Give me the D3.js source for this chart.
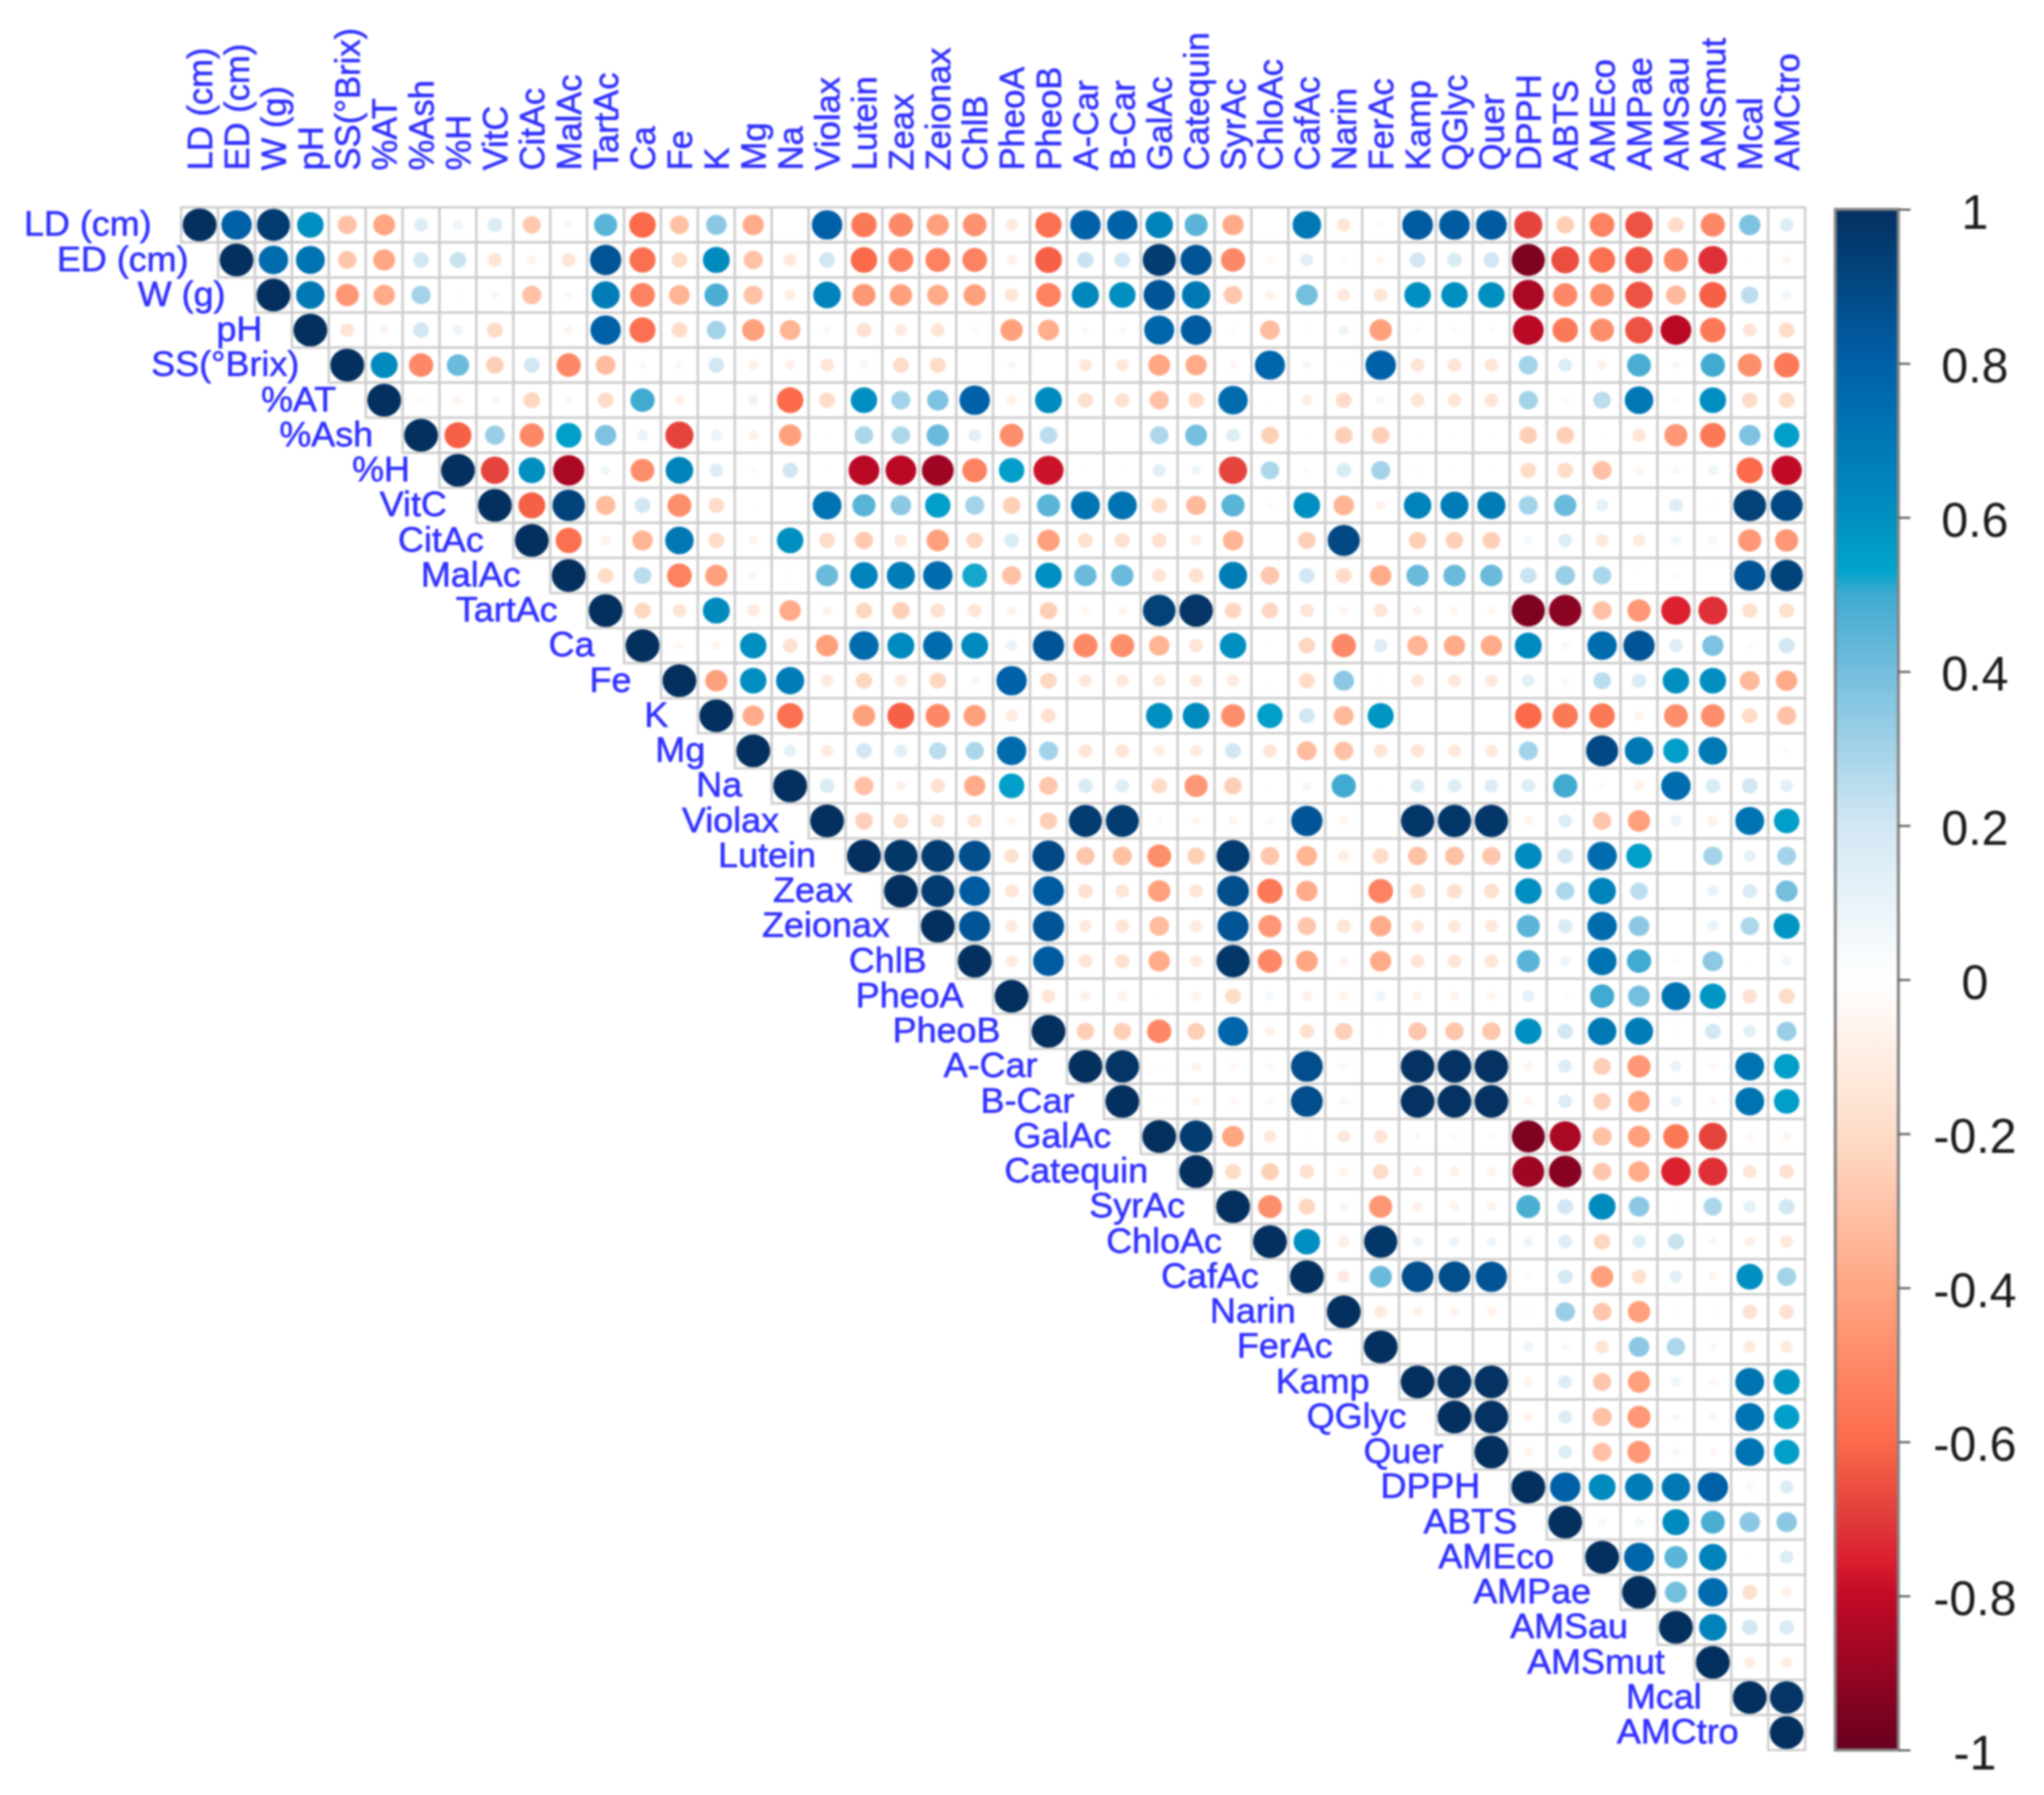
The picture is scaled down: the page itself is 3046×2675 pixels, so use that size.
<!DOCTYPE html>
<html>
<head>
<meta charset="utf-8">
<script src="https://cdn.jsdelivr.net/npm/d3@7/dist/d3.min.js"></script>
<style>
html,body{margin:0;padding:0;background:#fff;}
svg{display:block;filter:blur(1.8px);}
text{font-family:"Liberation Sans",Arial,sans-serif;}
</style>
</head>
<body>
<svg id="chart" width="3046" height="2675"></svg>
<script>
const variables = ["LD (cm)","ED (cm)","W (g)","pH","SS(°Brix)","%AT","%Ash","%H","VitC","CitAc","MalAc","TartAc","Ca","Fe","K","Mg","Na","Violax","Lutein","Zeax","Zeionax","ChlB","PheoA","PheoB","A-Car","B-Car","GalAc","Catequin","SyrAc","ChloAc","CafAc","Narin","FerAc","Kamp","QGlyc","Quer","DPPH","ABTS","AMEco","AMPae","AMSau","AMSmut","Mcal","AMCtro"];

const colorbarTicks = [1,0.8,0.6,0.4,0.2,0,-0.2,-0.4,-0.6,-0.8,-1];
const colorStopValues = [1,0.8,0.6,0.53,0.5,0.4,0.2,0,-0.2,-0.4,-0.6,-0.7,-0.75,-0.8,-1];
const colorStopColors = ["#04305f","#0060a8","#008fc0","#00a4cc","#40aad0","#74bede","#d2e7f3","#ffffff","#fedcc8","#ffa683","#fb6a4a","#e03a3a","#dc2030","#c20a26","#67001f"];

// upper-triangle rows: each starts at the diagonal
const rowLD = [1,.8,.95,.6,-.3,-.4,.15,.08,.17,-.27,.05,.45,-.6,-.3,.35,-.38,0,.8,-.55,-.5,-.42,-.47,-.12,-.58,.8,.8,.65,.45,-.38,0,.7,-.15,-.03,.82,.82,.82,-.68,-.25,-.52,-.65,-.2,-.5,.38,.15];
const rowED = [1,.75,.72,-.28,-.4,.2,.22,-.15,-.07,-.15,.85,-.58,-.2,.62,-.3,-.13,.2,-.6,-.52,-.52,-.52,-.08,-.62,.22,.2,.95,.85,-.5,-.04,.13,-.03,-.05,.2,.17,.2,-.95,-.66,-.58,-.65,-.5,-.72,-.02,-.05];
const rowW = [1,.7,-.45,-.38,.3,.02,.05,-.3,.04,.68,-.52,-.35,.48,-.3,-.1,.65,-.45,-.42,-.38,-.42,-.15,-.52,.63,.6,.85,.7,-.28,-.07,.4,-.13,-.15,.6,.6,.6,-.85,-.5,-.48,-.65,-.33,-.62,.25,.07];
const rowPH = [1,-.15,-.06,.2,.08,-.2,0,-.06,.8,-.58,-.2,.3,-.42,-.35,.05,-.17,-.12,-.15,-.04,-.42,-.37,.04,.04,.78,.82,-.03,-.32,-.02,.08,-.42,.03,.03,.03,-.82,-.55,-.48,-.65,-.82,-.55,-.15,-.2];
const rowSS = [1,.62,-.5,.42,-.25,.2,-.5,-.32,.04,.05,.2,-.08,-.08,-.15,-.05,-.2,-.2,0,.05,0,-.13,-.13,-.4,-.38,-.05,.78,.05,.02,.8,-.15,-.15,-.15,.3,.15,-.08,.48,.05,.5,-.48,-.55];
const rowAT = [1,-.04,-.06,.05,-.22,.04,-.2,.5,-.08,0,.08,-.6,-.2,.6,.3,.38,.8,-.08,.62,-.18,-.17,-.3,-.2,.75,.01,-.1,-.2,.06,-.15,-.15,-.15,.3,.04,.25,.7,-.03,.6,-.2,-.2];
const rowAsh = [1,-.62,.32,-.5,.55,.38,.1,-.68,.1,-.08,-.42,.02,.28,.28,.42,.13,-.48,.25,0,0,.28,.4,.15,-.25,-.01,-.25,-.25,.01,.01,.01,-.25,-.25,-.01,-.15,-.45,-.55,.38,.55];
const rowH = [1,-.68,.6,-.85,.07,-.48,.65,.15,-.03,.2,-.01,-.82,-.82,-.88,-.52,.55,-.78,-.01,-.01,.13,.07,-.68,.28,.03,.17,.3,-.02,-.01,-.01,-.2,-.2,-.3,-.06,.05,.08,-.6,-.8];
const rowVitC = [1,-.62,.92,-.32,.2,-.48,-.2,.01,0,.72,.45,.35,.55,.3,-.25,.45,.72,.72,-.2,-.33,.45,-.03,.6,-.35,-.07,.65,.68,.68,.3,.42,.12,0,.15,.02,.93,.9];
const rowCitAc = [1,-.58,-.08,-.35,.7,-.2,-.06,.6,-.2,-.27,-.13,-.42,-.22,.17,-.42,-.18,-.18,-.17,-.1,-.35,0,-.25,.9,0,-.25,-.25,-.25,.06,.15,-.13,-.12,.07,.06,-.45,-.45];
const rowMalAc = [1,-.2,.25,-.52,-.42,.06,-.01,.42,.65,.68,.75,.52,-.3,.6,.42,.42,-.15,-.17,.68,-.28,.2,-.2,-.38,.42,.42,.42,.22,.32,.28,-.01,.04,0,.85,.92];
const rowTartAc = [1,-.22,-.15,.62,-.12,-.38,-.07,-.22,-.25,-.17,-.15,-.07,-.25,-.05,-.06,.93,.98,-.22,-.22,-.15,-.06,-.15,-.07,-.06,-.05,-.95,-.92,-.3,-.45,-.75,-.72,-.18,-.18];
const rowCa = [1,-.05,-.06,.6,-.17,-.42,.75,.62,.75,.62,.1,.85,-.5,-.48,-.35,-.15,.6,.02,-.22,-.5,.15,-.35,-.38,-.38,.62,.05,.75,.85,.15,.38,.03,.2];
const rowFe = [1,-.42,.6,.68,-.12,-.22,-.12,-.22,-.06,.8,-.22,-.13,-.13,-.12,-.13,-.12,-.01,-.2,.35,-.01,-.13,-.13,-.13,.13,.05,.25,.17,.6,.6,-.33,-.38];
const rowK = [1,-.38,-.58,0,-.42,-.62,-.5,-.42,-.12,-.17,0,0,.6,.62,-.48,.55,.2,-.33,.58,0,0,0,-.6,-.55,-.55,-.07,-.48,-.48,-.2,-.3];
const rowMg = [1,.12,-.12,.2,.13,.25,.28,.75,.3,-.15,-.15,-.1,-.12,.2,-.15,-.32,-.3,-.15,-.15,-.13,-.13,.3,0,.9,.7,.55,.7,0,.03];
const rowNa = [1,.17,-.3,-.08,-.17,-.38,.55,-.28,.17,.15,-.2,-.45,-.25,.02,.06,.5,-.01,.15,.15,.15,.15,.5,.03,-.08,.75,.17,.2,.13];
const rowViolax = [1,-.25,-.18,-.15,-.15,-.06,-.25,.95,.95,.04,-.05,-.06,.04,.85,-.06,0,.97,.97,.97,-.07,.15,-.28,-.42,.1,-.08,.72,.55];
const rowLutein = [1,.97,.95,.88,-.17,.9,-.28,-.3,-.48,-.25,.95,-.28,-.35,-.1,-.2,-.3,-.3,-.28,.62,.2,.75,.55,0,.3,.12,.3];
const rowZeax = [1,.95,.82,-.15,.82,-.17,-.15,-.42,-.15,.88,-.55,-.38,0,-.52,-.18,-.18,-.18,.6,.28,.65,.25,0,.1,.17,.4];
const rowZeionax = [1,.85,-.12,.85,-.12,-.15,-.32,-.12,.85,-.45,-.28,-.15,-.38,-.13,-.13,-.13,.45,.17,.75,.35,0,.1,.28,.58];
const rowChlB = [1,-.12,.82,-.15,-.17,-.38,-.12,.97,-.5,-.4,-.07,-.38,-.15,-.15,-.15,.45,.08,.72,.5,-.03,.35,-.01,.07];
const rowPheoA = [1,-.15,-.08,-.08,-.01,-.07,-.2,.06,-.08,-.07,.08,-.07,-.07,-.06,.12,-.03,.5,.4,.72,.58,-.17,-.2];
const rowPheoB = [1,-.25,-.25,-.5,-.25,.78,-.08,-.17,-.25,-.02,-.28,-.28,-.28,.6,.2,.7,.68,.02,.2,.13,.32];
const rowACar = [1,.98,.02,-.07,-.05,.04,.88,-.05,0,.99,.99,.99,-.06,.15,-.25,-.45,.1,-.05,.72,.55];
const rowBCar = [1,.02,-.06,-.05,.04,.88,-.05,0,.99,.99,.99,-.06,.15,-.25,-.4,.1,-.05,.72,.55];
const rowGalAc = [1,.95,-.4,-.13,-.01,-.13,-.15,.04,.03,.03,-.95,-.85,-.3,-.42,-.55,-.68,-.05,-.06];
const rowCatequin = [1,-.2,-.25,-.17,-.07,-.2,-.08,-.08,-.07,-.88,-.93,-.28,-.38,-.75,-.72,-.15,-.17];
const rowSyrAc = [1,-.48,-.22,-.06,-.45,-.08,-.07,-.07,.48,.2,.62,.35,-.02,.28,.12,.2];
const rowChloAc = [1,.6,-.1,.97,.08,.08,.08,.08,.15,-.22,.15,.22,.05,-.08,-.13];
const rowCafAc = [1,-.12,.42,.88,.88,.85,-.03,.18,-.42,-.17,.13,-.06,.6,.3];
const rowNarin = [1,-.12,-.08,-.07,-.07,.02,.32,-.28,-.42,-.01,-.01,-.17,-.17];
const rowFerAc = [1,0,0,0,.08,.05,-.15,.35,.28,.05,-.12,-.12];
const rowKamp = [1,.99,.99,-.07,.15,-.28,-.42,.07,-.05,.72,.58];
const rowQGlyc = [1,.99,-.07,.15,-.3,-.45,.05,-.05,.72,.55];
const rowQuer = [1,-.07,.15,-.3,-.45,.05,-.05,.72,.55];
const rowDPPH = [1,.8,.62,.68,.7,.8,.05,.15];
const rowABTS = [1,.05,.06,.62,.48,.35,.35];
const rowAMEco = [1,.78,.45,.65,.02,.15];
const rowAMPae = [1,.4,.75,-.18,-.08];
const rowAMSau = [1,.65,.2,.17];
const rowAMSmut = [1,-.1,-.1];
const rowMcal = [1,.98];
const rowAMCtro = [1];

const rows = [rowLD,rowED,rowW,rowPH,rowSS,rowAT,rowAsh,rowH,rowVitC,rowCitAc,rowMalAc,rowTartAc,rowCa,rowFe,rowK,rowMg,rowNa,rowViolax,rowLutein,rowZeax,rowZeionax,rowChlB,rowPheoA,rowPheoB,rowACar,rowBCar,rowGalAc,rowCatequin,rowSyrAc,rowChloAc,rowCafAc,rowNarin,rowFerAc,rowKamp,rowQGlyc,rowQuer,rowDPPH,rowABTS,rowAMEco,rowAMPae,rowAMSau,rowAMSmut,rowMcal,rowAMCtro];

const cells = [];
rows.forEach((row,i)=>row.forEach((v,k)=>cells.push({r:variables[i],c:variables[i+k],v})));

const svg = d3.select("#chart");
const x = d3.scaleBand().domain(variables).range([270,2690]);
const y = d3.scaleBand().domain(variables).range([309,2608]);
const color = d3.scaleLinear().domain(colorStopValues).range(colorStopColors).clamp(true);
const radius = d3.scaleSqrt().domain([0,1]).range([0,0.44]);

const blue = "#3030ff";

// grid
svg.append("g").selectAll("rect").data(cells).join("rect")
  .attr("x",d=>x(d.c)).attr("y",d=>y(d.r))
  .attr("width",x.bandwidth()).attr("height",y.bandwidth())
  .attr("fill","#fff").attr("stroke","#cdcdcd").attr("stroke-width",3.5);

// circles (the reference's cells are slightly wider than tall)
svg.append("g").selectAll("ellipse").data(cells.filter(d=>d.v!==0)).join("ellipse")
  .attr("cx",d=>x(d.c)+x.bandwidth()/2).attr("cy",d=>y(d.r)+y.bandwidth()/2)
  .attr("rx",d=>radius(Math.abs(d.v))*x.bandwidth())
  .attr("ry",d=>radius(Math.abs(d.v))*y.bandwidth()*1.02)
  .attr("fill",d=>color(d.v))
  .attr("stroke",d=>color(d.v)).attr("stroke-width",2);

// row labels, ending just before the diagonal
svg.append("g").selectAll("text").data(variables).join("text")
  .attr("transform",d=>`translate(${x(d)-44},${y(d)+y.bandwidth()/2-2}) scale(1.03,1)`)
  .attr("text-anchor","end").attr("dominant-baseline","central")
  .attr("font-size",52).attr("fill",blue).attr("stroke",blue).attr("stroke-width",0.8).text(d=>d);

// column labels
svg.append("g").selectAll("text").data(variables).join("text")
  .attr("transform",d=>`translate(${x(d)+x.bandwidth()/2},254) rotate(-90)`)
  .attr("text-anchor","start").attr("dominant-baseline","central")
  .attr("font-size",51.5).attr("fill",blue).attr("stroke",blue).attr("stroke-width",0.8).text(d=>d);

// colour bar
const barX0 = 2735, barX1 = 2829, barY0 = 312, barY1 = 2608;
const barScale = d3.scaleLinear().domain([-1,1]).range([barY1,barY0]);
const grad = svg.append("defs").append("linearGradient").attr("id","bar")
  .attr("x1",0).attr("y1",0).attr("x2",0).attr("y2",1);
grad.selectAll("stop").data(colorStopValues).join("stop")
  .attr("offset",d=>(1-d)/2).attr("stop-color",d=>color(d));
svg.append("rect").attr("x",barX0).attr("y",barY0).attr("width",barX1-barX0).attr("height",barY1-barY0)
  .attr("fill","url(#bar)").attr("stroke","#858585").attr("stroke-width",4.5);

const axis = d3.axisRight(barScale).tickValues(colorbarTicks).tickSize(18).tickFormat(d=>String(d));
const gAxis = svg.append("g").attr("transform",`translate(${barX1},0)`).call(axis);
gAxis.select(".domain").remove();
gAxis.selectAll("line").attr("stroke","#5a5a5a").attr("stroke-width",3);
gAxis.selectAll("text").attr("x",114).attr("y",3).attr("dy",null).attr("text-anchor","middle")
  .attr("dominant-baseline","central").attr("font-size",72).attr("font-family",'"Liberation Sans",Arial,sans-serif').attr("fill","#1a1a1a");
</script>
</body>
</html>
